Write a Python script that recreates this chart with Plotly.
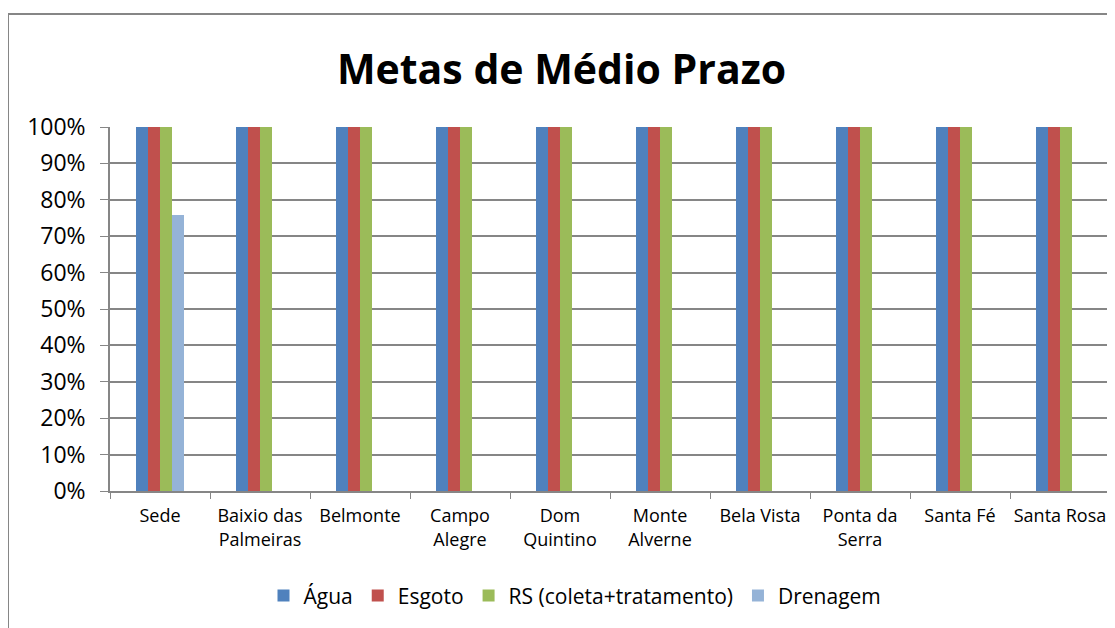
import plotly.graph_objects as go

# categories and tick labels
categories = ['Sede', 'Baixio das Palmeiras', 'Belmonte', 'Campo Alegre', 'Dom Quintino',
              'Monte Alverne', 'Bela Vista', 'Ponta da Serra', 'Santa Fé', 'Santa Rosa']
tick_labels = ['Sede', 'Baixio das<br>Palmeiras', 'Belmonte', 'Campo<br>Alegre', 'Dom<br>Quintino',
               'Monte<br>Alverne', 'Bela Vista', 'Ponta da<br>Serra', 'Santa Fé', 'Santa Rosa']

# metas (fraction)
agua = [1, 1, 1, 1, 1, 1, 1, 1, 1, 1]
esgoto = [1, 1, 1, 1, 1, 1, 1, 1, 1, 1]
rs = [1, 1, 1, 1, 1, 1, 1, 1, 1, 1]
drenagem = [0.758, 0, 0, 0, 0, 0, 0, 0, 0, 0]

series = [
    ('Água', agua, '#4F81BD'),
    ('Esgoto', esgoto, '#C0504D'),
    ('RS (coleta+tratamento)', rs, '#9BBB59'),
    ('Drenagem', drenagem, '#95B3D7'),
]

fig = go.Figure()
for name, vals, color in series:
    fig.add_trace(go.Bar(x = categories, y = vals, name = name, marker_color = color,
                         marker_line_width = 0))

grid = '#868686'
# page body has an 8px margin, so the figure is 8px smaller than the window
fig.update_layout(
    width = 1107, height = 620,
    font = dict(family = 'Open Sans', size = 16, color = 'black'),
    paper_bgcolor = 'white', plot_bgcolor = 'white',
    margin = dict(l = 102, r = 5, t = 119, b = 137),
    barmode = 'group', bargap = 0.52, bargroupgap = 0,
    title = dict(text = '<b>Metas de Médio Prazo</b>', x = 0.5, xanchor = 'center',
                 y = 1 - 62 / 620, yanchor = 'middle', font = dict(size = 41)),
    legend = dict(orientation = 'h', x = 0.465, xanchor = 'center', y = -0.288, yanchor = 'middle',
                  font = dict(size = 21), itemclick = False, itemwidth = 30),
    showlegend = True,
)
fig.update_xaxes(
    tickmode = 'array', tickvals = categories, ticktext = tick_labels,
    tickson = 'boundaries', ticks = 'outside', ticklen = 6, tickcolor = grid,
    showline = True, linecolor = grid, linewidth = 1.5, showgrid = False,
    tickfont = dict(size = 18), tickangle = 0, ticklabelstandoff = 8,
)
fig.update_yaxes(
    range = [0, 1], dtick = 0.1, tickformat = '.0%',
    ticks = 'outside', ticklen = 8, tickcolor = grid,
    showline = True, linecolor = grid, linewidth = 1.5,
    showgrid = True, gridcolor = grid, gridwidth = 1.5,
    tickfont = dict(size = 23), zeroline = False, ticklabelstandoff = 10,
)

# outer chart border
fig.add_shape(type = 'rect', xref = 'paper', yref = 'paper',
              x0 = -0.102, x1 = 1.004, y0 = -0.38, y1 = (491 - 14) / 364,
              line = dict(color = grid, width = 2), fillcolor = 'rgba(0,0,0,0)', layer = 'below')

fig.write_html("out.html")
